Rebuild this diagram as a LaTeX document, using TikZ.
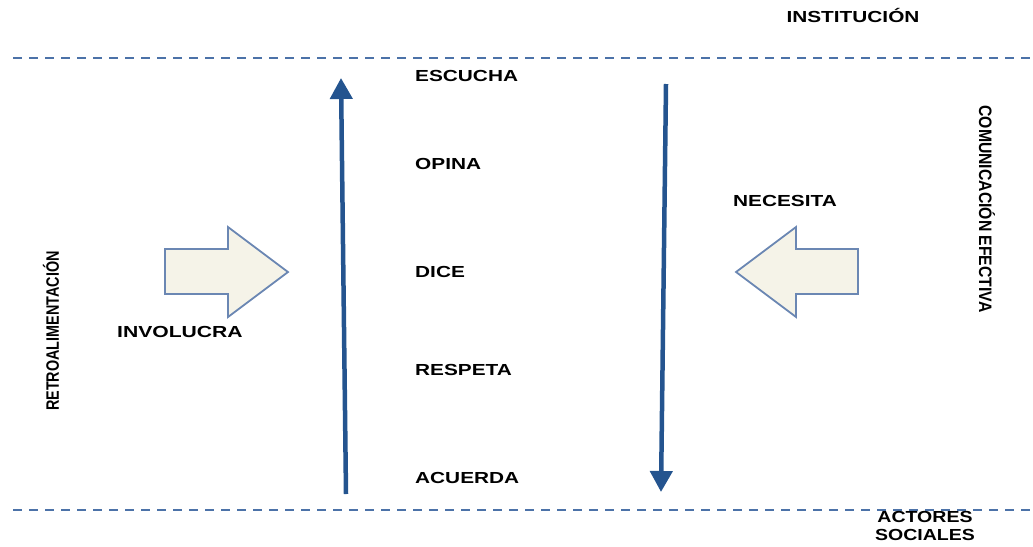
\documentclass[tikz,border=0pt]{standalone}
\usepackage{fontspec}
\usepackage{graphicx}
\setmainfont{Liberation Sans}
\usetikzlibrary{arrows.meta}
\definecolor{dashblue}{HTML}{4C72A8}
\definecolor{arrblue}{HTML}{24548F}
\definecolor{blockfill}{HTML}{F5F3E8}
\definecolor{blockdraw}{HTML}{6B87B3}
\tikzset{
  lbl/.style={inner sep=0pt, font=\fontsize{16}{18}\selectfont\bfseries, text=black},
  vlbl/.style={inner sep=0pt, font=\fontsize{18}{20}\selectfont\bfseries, text=black},
  sepline/.style={draw=dashblue, line width=2pt, dash pattern=on 9pt off 7pt},
  flow/.style={draw=arrblue, line width=4.5pt, -{Triangle[width=22pt,length=21pt]}},
  block/.style={fill=blockfill, draw=blockdraw, line width=1.8pt, line join=miter},
}
\begin{document}
\begin{tikzpicture}[x=1pt,y=-1pt]
\useasboundingbox (0,0) rectangle (1033,546);
% separator lines
\coordinate (tl) at (13,58); \coordinate (tr) at (1033,58);
\coordinate (bl) at (13,510); \coordinate (br) at (1033,510);
\draw[sepline] (tl) -- (tr);
\draw[sepline] (bl) -- (br);
% vertical arrows
\coordinate (ua) at (346,494); \coordinate (ub) at (341,78);
\coordinate (da) at (666,84); \coordinate (db) at (661,492);
\draw[flow] (ua) -- (ub);
\draw[flow] (da) -- (db);
% block arrows
\draw[block] (165,249) -- (228,249) -- (228,227) -- (288,272) -- (228,317) -- (228,294) -- (165,294) -- cycle;
\draw[block] (858,249) -- (796,249) -- (796,227) -- (736,272) -- (796,317) -- (796,294) -- (858,294) -- cycle;
% labels
\node[lbl, anchor=base] (inst) at (853,22) {\scalebox{1.3}[1]{INSTITUCIÓN}};
\node[lbl, anchor=base west] (escucha) at (415,81) {\scalebox{1.3}[1]{ESCUCHA}};
\node[lbl, anchor=base west] (opina) at (415,169) {\scalebox{1.3}[1]{OPINA}};
\node[lbl, anchor=base west] (dice) at (415,277) {\scalebox{1.3}[1]{DICE}};
\node[lbl, anchor=base west] (respeta) at (415,375) {\scalebox{1.3}[1]{RESPETA}};
\node[lbl, anchor=base west] (acuerda) at (415,483) {\scalebox{1.3}[1]{ACUERDA}};
\node[lbl, anchor=base west] (involucra) at (117,337) {\scalebox{1.32}[1]{INVOLUCRA}};
\node[lbl, anchor=base west] (necesita) at (733,206) {\scalebox{1.3}[1]{NECESITA}};
\node[lbl, anchor=base] (actores) at (925,522) {\scalebox{1.22}[1]{ACTORES}};
\node[lbl, anchor=base] (sociales) at (925,540) {\scalebox{1.22}[1]{SOCIALES}};
\node[vlbl, rotate=90] (retro) at (51,331) {\scalebox{0.80}[1]{RETROALIMENTACIÓN}};
\node[vlbl, rotate=-90] (comu) at (987,209) {\scalebox{0.875}[1]{COMUNICACIÓN EFECTIVA}};
\end{tikzpicture}
\end{document}
